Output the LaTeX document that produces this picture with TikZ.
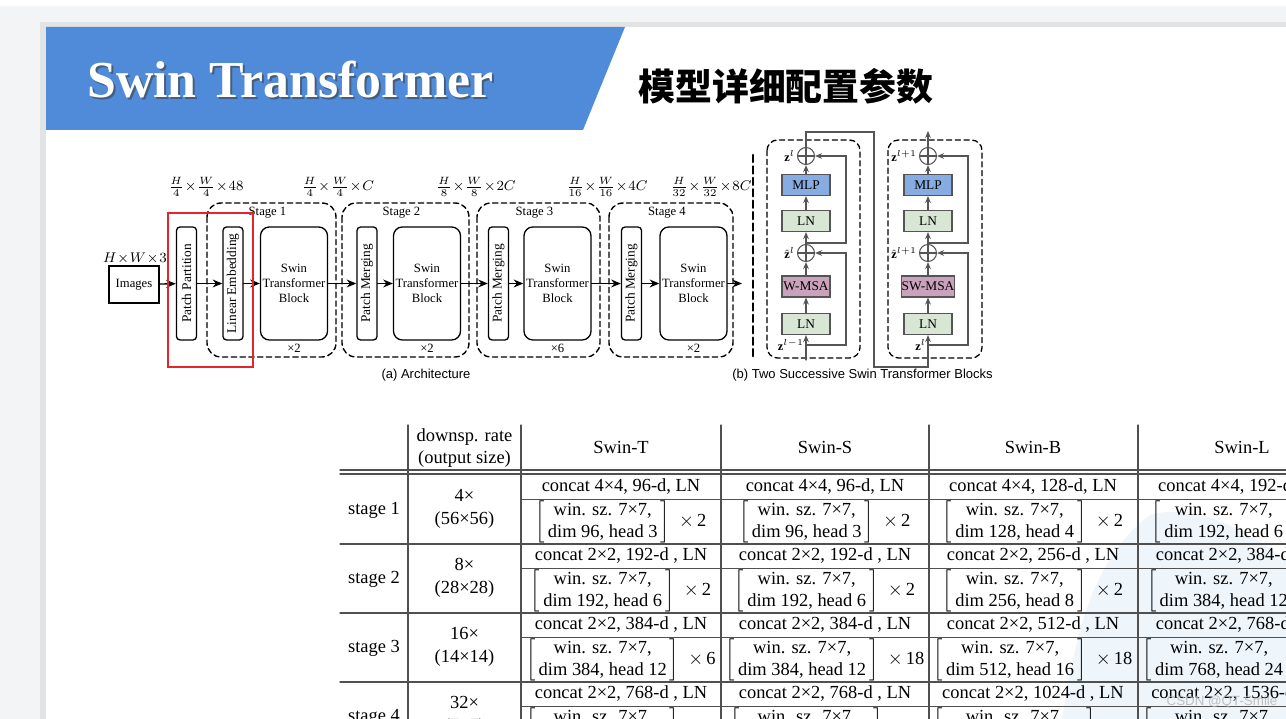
\documentclass[tikz,border=0pt]{standalone}
\usepackage{fontspec}
\setmainfont{Liberation Serif}
\setsansfont{Liberation Sans}
\newfontfamily\cjk{Noto Sans CJK SC}
\usetikzlibrary{positioning, arrows.meta}
\definecolor{bannerblue}{HTML}{4F8BD9}
\definecolor{pagegray}{HTML}{F3F4F6}
\definecolor{edgegray}{HTML}{E2E3E5}
\definecolor{mlpblue}{HTML}{86ACE2}
\definecolor{lngreen}{HTML}{D8E6D4}
\definecolor{msamauve}{HTML}{CBA2BB}
\definecolor{drawgray}{HTML}{555555}
\definecolor{rulegray}{HTML}{505050}
\definecolor{markred}{HTML}{E3262B}
\definecolor{washblue}{HTML}{EEF6FC}
\newcommand{\wincell}[3]{{\delimitershortfall=8pt\delimiterfactor=800$\left[\begin{tabular}{@{\,}c@{\,}}win. sz. 7×7,\\dim #1, head #2\end{tabular}\right]$\enspace$\times$\,#3}}

\begin{document}
\begin{tikzpicture}[
		x=0.02cm, y=-0.02cm, >=stealth, line cap=round,
		archbox/.style={draw, line width=0.75pt, rounded corners=2pt, minimum width=0.4cm, minimum height=2.26cm, inner sep=0pt, font=\fontsize{7.6}{8.6}\selectfont},
		swinbox/.style={archbox, rounded corners=5pt, minimum width=1.34cm, align=center, font=\fontsize{7.2}{8.6}\selectfont},
		flow/.style={-{Stealth[length=5.5pt, width=4.5pt]}, line width=0.75pt},
		stagebox/.style={draw, line width=0.8pt, dash pattern=on 3pt off 2pt, rounded corners=8pt},
		stagetext/.style={font=\fontsize{7.2}{8.6}\selectfont},
		dimlabel/.style={font=\fontsize{8}{10}\selectfont},
		blkbox/.style={draw=drawgray, line width=0.6pt, minimum width=0.96cm, minimum height=0.42cm, inner sep=0pt, font=\fontsize{7.6}{9}\selectfont},
		addop/.style={draw=drawgray, circle, line width=0.6pt, minimum size=0.34cm, inner sep=0pt,
			path picture={\draw[drawgray, line width=0.6pt] (path picture bounding box.north) -- (path picture bounding box.south) (path picture bounding box.west) -- (path picture bounding box.east);}},
		link/.style={-{Stealth[length=4pt, width=3.2pt]}, drawgray, line width=0.6pt},
		zlabel/.style={font=\fontsize{7}{8}\selectfont, inner sep=1pt},
		caption/.style={font=\sffamily\fontsize{7.4}{9}\selectfont},
		celltext/.style={font=\fontsize{10.5}{13}\selectfont, inner sep=0pt},
		rule/.style={rulegray, line width=0.6pt}
	]
	\clip (0,0) rectangle (1286,719);
	% page and slide
	\fill[pagegray] (0,0) rectangle (1286,719);
	\fill[white] (0,0) rectangle (1286,6);
	\fill[edgegray] (40,22) rectangle (1286,719);
	\fill[white] (46,27) rectangle (1286,719);
	\fill[bannerblue] (46,27) -- (625,27) -- (583,130) -- (46,130) -- cycle;
	\node[anchor=base west, inner sep=0pt, font=\bfseries\fontsize{29.5}{30}\selectfont, text=black!75, opacity=0.6] (titleshadow) at (89,100) {Swin Transformer};
	\node[anchor=base west, inner sep=0pt, font=\bfseries\fontsize{29.5}{30}\selectfont, text=white] (title) at (87,98) {Swin Transformer};
	\node[anchor=base west, inner sep=0pt, font=\cjk\bfseries\fontsize{21}{22}\selectfont] (subtitle) at (638,101) {模型详细配置参数};

	% (a) architecture
	\node[draw, line width=0.75pt, minimum width=1cm, minimum height=0.74cm, inner sep=0pt, font=\fontsize{7.2}{8.6}\selectfont] (img) at (134,284.5) {Images};
	\node[archbox] (pp) at (186.5,283.5) {\rotatebox{90}{Patch Partition}};
	\node[archbox] (le) at (233,283.5) {\rotatebox{90}{Linear Embedding}};
	\node[swinbox] (sa) at (294,283.5) {Swin\\Transformer\\Block};
	\node[archbox] (pmb) at (367,283.5) {\rotatebox{90}{Patch Merging}};
	\node[swinbox] (sb) at (427,283.5) {Swin\\Transformer\\Block};
	\node[archbox] (pmc) at (498.5,283.5) {\rotatebox{90}{Patch Merging}};
	\node[swinbox] (sc) at (557.5,283.5) {Swin\\Transformer\\Block};
	\node[archbox] (pmd) at (631.5,283.5) {\rotatebox{90}{Patch Merging}};
	\node[swinbox] (sd) at (693.5,283.5) {Swin\\Transformer\\Block};
	\coordinate (outa) at (742,283.5);
	\foreach \a/\b in {img/pp, pp/le, le/sa, sa/pmb, pmb/sb, sb/pmc, pmc/sc, sc/pmd, pmd/sd, sd/outa}
		\draw[flow] (\a) -- (\b);
	\foreach \n/\xa/\xb/\rep in {1/207/336/2, 2/342/469/2, 3/477/600/6, 4/609/733/2}{
		\draw[stagebox] (\xa,203) rectangle (\xb,357);
		\node[stagetext] (stage\n) at ({(\xa+\xb)/2-4},213) {Stage \n};
	}
	\node[stagetext] (repa) at (294,348) {×2};
	\node[stagetext] (repb) at (427,348) {×2};
	\node[stagetext] (repc) at (557.5,348) {×6};
	\node[stagetext] (repd) at (693.5,348) {×2};
	\node[dimlabel] (dim0) at (135,258) {$H\!\times\! W\!\times\! 3$};
	\node[dimlabel] (dim1) at (206,187) {$\frac{H}{4}\!\times\!\frac{W}{4}\!\times\! 48$};
	\node[dimlabel] (dim2) at (338,187) {$\frac{H}{4}\!\times\!\frac{W}{4}\!\times\! C$};
	\node[dimlabel] (dim3) at (476,187) {$\frac{H}{8}\!\times\!\frac{W}{8}\!\times\! 2C$};
	\node[dimlabel] (dim4) at (607,187) {$\frac{H}{16}\!\times\!\frac{W}{16}\!\times\! 4C$};
	\node[dimlabel] (dim5) at (711,187) {$\frac{H}{32}\!\times\!\frac{W}{32}\!\times\! 8C$};
	\draw[markred, line width=1.2pt] (168,213) rectangle (253,367);
	\node[caption] (capa) at (426,375) {(a) Architecture};
	\draw[line width=1.5pt, dash pattern=on 4pt off 2.5pt] (753,155) -- (753,357);

	% (b) two successive blocks
	\draw[stagebox, line width=0.75pt, rounded corners=6pt] (767,140) rectangle (860,358);
	\draw[stagebox, line width=0.75pt, rounded corners=6pt] (888,140) rectangle (982,358);
	\foreach \m/\cx/\msa in {a/806/W-MSA, b/928/SW-MSA}{
		\node[addop] (addt\m) at (\cx,156) {};
		\node[blkbox, fill=mlpblue] (mlp\m) at (\cx,185) {MLP};
		\node[blkbox, fill=lngreen] (lnt\m) at (\cx,221) {LN};
		\node[addop] (addb\m) at (\cx,253) {};
		\node[blkbox, fill=msamauve] (msa\m) at (\cx,286.5) {\msa};
		\node[blkbox, fill=lngreen] (lnb\m) at (\cx,324) {LN};
		\coordinate (skipb\m) at (\cx,345);
		\coordinate (skipt\m) at (\cx,243);
		\draw[link] (lnb\m) -- (msa\m);
		\draw[link] (msa\m) -- (addb\m);
		\draw[link] (addb\m) -- (lnt\m);
		\draw[link] (lnt\m) -- (mlp\m);
		\draw[link] (mlp\m) -- (addt\m);
		\draw[link] (skipb\m) -- ++(40,0) |- (addb\m.east);
		\draw[link] (skipt\m) -- ++(40,0) |- (addt\m.east);
	}
	\coordinate (ina) at (806,360);
	\coordinate (linkt) at (874,132);
	\coordinate (linkb) at (874,367);
	\draw[link] (ina) -- (lnba);
	\draw[link] (addta.north) |- (linkt) -- (linkb) -| (lnbb.south);
	\draw[link] (addtb.north) -- ++(0,-16);
	\node[zlabel, left=0pt of addta] (za) {$\mathbf{z}^{l}$};
	\node[zlabel, left=0pt of addba] (zha) {$\hat{\mathbf{z}}^{l}$};
	\node[zlabel, anchor=east] (zina) at (806,345) {$\mathbf{z}^{l-1}$};
	\node[zlabel, left=0pt of addtb] (zb) {$\mathbf{z}^{l+1}$};
	\node[zlabel, left=0pt of addbb] (zhb) {$\hat{\mathbf{z}}^{l+1}$};
	\node[zlabel, anchor=east] (zinb) at (928,345) {$\mathbf{z}^{l}$};
	\node[caption] (capb) at (862.5,375) {(b) Two Successive Swin Transformer Blocks};

	% table of configurations
	\fill[washblue] (1062,719) .. controls (1075,640) and (1090,560) .. (1150,515) .. controls (1200,500) and (1260,540) .. (1286,560) -- (1286,719) -- cycle;
	\foreach \vx in {408, 521, 721, 929, 1138}
		\draw[rule] (\vx,425) -- (\vx,719);
	\draw[rule] (340,470) -- (1286,470);
	\draw[rule] (340,474) -- (1286,474);
	\foreach \hy in {544, 613, 682}
		\draw[rule] (340,\hy) -- (1286,\hy);
	\foreach \hy in {499.5, 568.5, 637.5, 706.5}
		\draw[rule] (521,\hy) -- (1286,\hy);
	\node[celltext, align=center] (hrate) at (464.5,448) {downsp. rate\\(output size)};
	\node[celltext] (hswint) at (621,447) {Swin-T};
	\node[celltext] (hswins) at (825,447) {Swin-S};
	\node[celltext] (hswinb) at (1033,447) {Swin-B};
	\node[celltext] (hswinl) at (1242,447) {Swin-L};
	\foreach \k/\n/\rate/\size in {0/1/4/56, 1/2/8/28, 2/3/16/14, 3/4/32/7}{
		\pgfmathsetmacro{\rowtop}{475+69*\k}
		\node[celltext] (stage-\n) at (374,\rowtop+35) {stage \n};
		\node[celltext, align=center] (rate-\n) at (464.5,\rowtop+34) {\rate×\\(\size×\size)};
	}
	\foreach \k/\m/\cx/\cat/\dim/\head/\rep in {
		0/t/621/{concat 4×4, 96-d, LN}/96/3/2,
		0/s/825/{concat 4×4, 96-d, LN}/96/3/2,
		0/b/1033/{concat 4×4, 128-d, LN}/128/4/2,
		0/l/1242/{concat 4×4, 192-d, LN}/192/6/2,
		1/t/621/{concat 2×2, 192-d , LN}/192/6/2,
		1/s/825/{concat 2×2, 192-d , LN}/192/6/2,
		1/b/1033/{concat 2×2, 256-d , LN}/256/8/2,
		1/l/1242/{concat 2×2, 384-d , LN}/384/12/2,
		2/t/621/{concat 2×2, 384-d , LN}/384/12/6,
		2/s/825/{concat 2×2, 384-d , LN}/384/12/18,
		2/b/1033/{concat 2×2, 512-d , LN}/512/16/18,
		2/l/1242/{concat 2×2, 768-d , LN}/768/24/18,
		3/t/621/{concat 2×2, 768-d , LN}/768/24/2,
		3/s/825/{concat 2×2, 768-d , LN}/768/24/2,
		3/b/1033/{concat 2×2, 1024-d , LN}/1024/32/2,
		3/l/1242/{concat 2×2, 1536-d , LN}/1536/48/2}{
		\pgfmathsetmacro{\rowtop}{475+69*\k}
		\node[celltext] (cat-\k-\m) at (\cx,\rowtop+12) {\cat};
		\node[celltext] (win-\k-\m) at (\cx,\rowtop+47) {\wincell{\dim}{\head}{\rep}};
	}
	\node[font=\sffamily\fontsize{7.6}{9}\selectfont, text=gray!60, opacity=0.8] (wmark) at (1222,702) {CSDN @QT-Smile};
\end{tikzpicture}
\end{document}
